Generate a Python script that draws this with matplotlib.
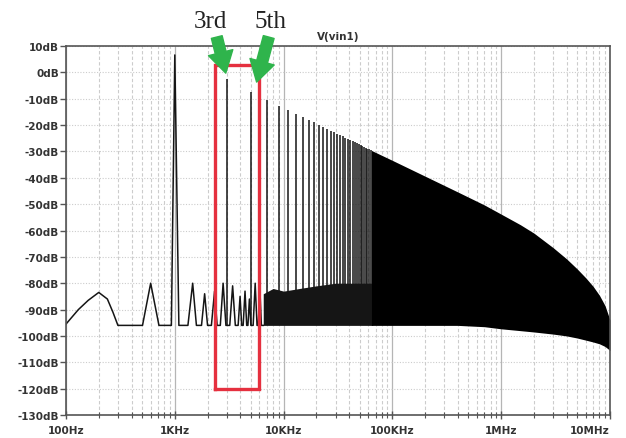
import matplotlib
matplotlib.use("Agg")
import matplotlib.pyplot as plt
from matplotlib.ticker import LogLocator, NullFormatter

# --- data (Hz / dB) ---
# low-frequency part of the trace: noise humps, fundamental, small bumps
trace_hz = [100, 130, 160, 200, 240, 270, 300, 505, 600, 715, 930, 1000, 1090,
            1320, 1460, 1580, 1760, 1880, 2000, 2170, 2320, 2450, 2620, 2780, 2950,
            3200, 3400, 3600, 3820, 3980, 4120, 4250, 4420, 4580, 4700, 4850, 5000,
            5250, 5480, 5700, 5850, 6050, 6250, 6500]
trace_db = [-95.5, -90, -86.5, -83.5, -86, -91, -96, -96, -80, -96, -96, 6.6, -96,
            -96, -80, -96, -96, -84, -96, -96, -83, -96, -96, -80, -96,
            -96, -81, -96, -96, -85, -96, -96, -83, -96, -96, -86, -96,
            -96, -80, -96, -96, -82, -96, -96]

# odd harmonics of the 1 kHz square wave (peak levels)
fundamental_hz = 1000
harm_order = list(range(3, 65, 2))
harm_db = [-2.7, -7.3, -10.3, -12.6, -14.3, -15.7, -16.9, -18.0, -19.0, -19.9,
           -20.7, -21.4, -22.1, -22.7, -23.3, -23.8, -24.3, -24.8, -25.3, -25.7,
           -26.1, -26.5, -26.9, -27.3, -27.6, -28.0, -28.3, -28.6, -28.9, -29.2,
           -29.5]
floor_db = -96

# dense noise band under the harmonics
band_hz = [6500, 8000, 10000, 14000, 20000, 30000, 45000, 66000]
band_top_db = [-84, -82, -83, -82, -81, -80, -80, -80]

# region where the harmonics merge into a solid black envelope
env_hz = [64e3, 100e3, 200e3, 400e3, 700e3, 1e6, 1.5e6, 2e6, 3e6, 4e6,
          5e6, 6e6, 7e6, 8e6, 9e6, 10e6]
env_top_db = [-29.6, -33.4, -39.4, -45.4, -50.3, -53.8, -57.8, -61.0, -66.5, -70.8,
              -74.6, -78, -81.2, -84.6, -88.5, -94]
env_bot_db = [-96, -96, -96, -96, -96.5, -97.3, -98, -98.5, -99.3, -100,
              -100.8, -101.6, -102.3, -103, -104, -105.5]

# highlighted window
box_hz = (2330, 6000)
box_db = (-120, 2.9)

xtick_hz = [1e2, 1e3, 1e4, 1e5, 1e6, 1e7]
xtick_labels = ["100Hz", "1KHz", "10KHz", "100KHz", "1MHz", "10MHz"]
ytick_db = list(range(10, -131, -10))

fig = plt.figure(figsize=(6.26, 4.39), dpi=100)
ax = fig.add_axes([66 / 626, 1 - 416 / 439, 544 / 626, 369 / 439])
ax.set_xscale("log")
ax.set_xlim(1e2, 1e7)
ax.set_ylim(-130, 10)

# grid
ax.xaxis.set_minor_locator(LogLocator(base=10, subs=range(2, 10)))
ax.xaxis.set_minor_formatter(NullFormatter())
ax.grid(which="major", axis="x", color="#b5b5b5", lw=0.9)
ax.grid(which="minor", axis="x", color="#cccccc", lw=0.8, ls=(0, (3, 2)))
ax.grid(which="major", axis="y", color="#cccccc", lw=0.8, ls=(0, (1, 1.5)))
ax.set_axisbelow(True)

trace_col = "#151515"
ax.plot(trace_hz, trace_db, color=trace_col, lw=1.1)
harm_hz = [fundamental_hz * n for n in harm_order]
ax.vlines(harm_hz, floor_db, harm_db, color=trace_col, lw=1.1)
ax.fill_between(band_hz, floor_db, band_top_db, color=trace_col, lw=0)
ax.fill_between(env_hz, env_bot_db, env_top_db, color="black", lw=0)

# red window
bx = [box_hz[0], box_hz[1], box_hz[1], box_hz[0], box_hz[0]]
by = [box_db[0], box_db[0], box_db[1], box_db[1], box_db[0]]
ax.plot(bx, by, color="#e5303f", lw=2.4, solid_joinstyle="miter", zorder=5)

# ticks
ax.set_xticks(xtick_hz)
ax.set_xticklabels(xtick_labels)
ax.set_yticks(ytick_db)
ax.set_yticklabels([f"{v}dB" for v in ytick_db])
for lab in ax.get_xticklabels() + ax.get_yticklabels():
    lab.set_fontweight("bold")
    lab.set_fontsize(7.5)
    lab.set_color("#333333")
ax.get_xticklabels()[-1].set_ha("right")  # keep it on the canvas
ax.tick_params(axis="y", direction="out", length=4, width=1, color="#555555", pad=1)
ax.tick_params(axis="x", which="major", direction="inout", length=6, width=1,
               color="#555555", pad=4)
ax.tick_params(axis="x", which="minor", direction="inout", length=4, width=0.8,
               color="#555555")
for sp in ax.spines.values():
    sp.set_color("#555555")
    sp.set_linewidth(1.2)

# annotations
fig.text(338 / 626, 1 - 37 / 439, "V(vin1)", ha="center", va="center",
         fontsize=7.5, fontweight="bold", color="#333333")
serif = ["Liberation Serif", "DejaVu Serif"]
fig.text(210 / 626, 1 - 22 / 439, "3rd", ha="center", va="center",
         fontsize=18, family=serif, color="#222222")
fig.text(270 / 626, 1 - 22 / 439, "5th", ha="center", va="center",
         fontsize=18, family=serif, color="#222222")

green = "#2fb44c"
arrow = dict(arrowstyle="simple,head_width=0.95,head_length=0.8,tail_width=0.42",
             color=green, mutation_scale=19, shrinkA=0, shrinkB=0)
ax.annotate("", xy=(2940, -0.3), xytext=(2430, 13.4), arrowprops=arrow,
            annotation_clip=False, zorder=6)
ax.annotate("", xy=(5650, -3.7), xytext=(7300, 13.4), arrowprops=arrow,
            annotation_clip=False, zorder=6)

fig.savefig("out.png", dpi=100)
